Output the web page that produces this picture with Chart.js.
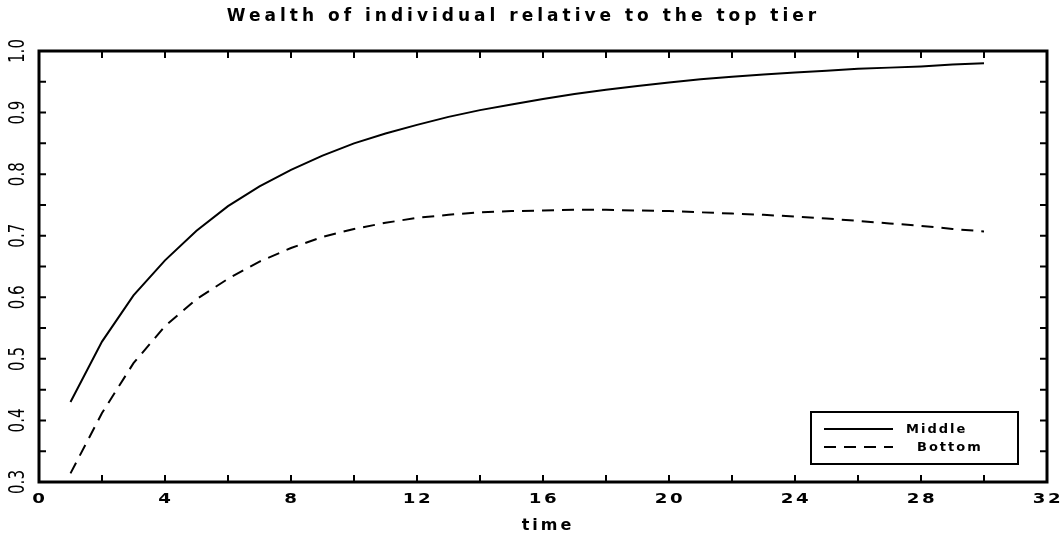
<!DOCTYPE html>
<html>
<head>
<meta charset="utf-8">
<script src="https://cdn.jsdelivr.net/npm/chart.js@4/dist/chart.umd.min.js"></script>
<style>
  body { margin: 0; background: #fff; }
  canvas { display: block; }
</style>
</head>
<body>
<canvas id="wealthChart" width="1063" height="539"></canvas>
<script>
// time steps and the two wealth ratios
const times = [1, 2, 3, 4, 5, 6, 7, 8, 9, 10, 11, 12, 13, 14, 15,
               16, 17, 18, 19, 20, 21, 22, 23, 24, 25, 26, 27, 28, 29, 30];
const middleWealth = [0.430, 0.528, 0.603, 0.660, 0.708, 0.748, 0.780, 0.807, 0.830, 0.850,
                      0.866, 0.880, 0.893, 0.904, 0.913, 0.922, 0.930, 0.937, 0.943, 0.949,
                      0.954, 0.958, 0.962, 0.965, 0.968, 0.971, 0.973, 0.975, 0.978, 0.980];
const bottomWealth = [0.314, 0.412, 0.493, 0.553, 0.597, 0.630, 0.658, 0.680, 0.698, 0.711,
                      0.721, 0.729, 0.734, 0.738, 0.740, 0.741, 0.742, 0.742, 0.741, 0.740,
                      0.738, 0.736, 0.734, 0.731, 0.728, 0.724, 0.720, 0.716, 0.711, 0.707];
const seriesNames = ['Middle', 'Bottom'];
const xAxisTitle = 'time';

const xLimits = [0, 32];
const xMajorStep = 4;
const xMinorStep = 2;
const yLimits = [0.3, 1.0];
const yMajorStep = 0.1;
const yMinorStep = 0.05;

const FONT = "'DejaVu Sans', sans-serif";
Chart.defaults.font.family = FONT;
Chart.defaults.color = '#000';

function toPoints(values){
    return values.map((v, i) => ({x: times[i], y: v}));
}

// frame, inward ticks, tick labels, axis title and the boxed legend
const framePlugin = {
    id: 'framePlugin',
    beforeDraw(chart){
        // only the chart title is drawn by the library, with wide spacing
        chart.ctx.letterSpacing = '4px';
    },
    afterDraw(chart){
        const ctx = chart.ctx;
        const area = chart.chartArea;
        const xs = chart.scales.x;
        const ys = chart.scales.y;
        ctx.save();
        ctx.strokeStyle = '#000';
        ctx.fillStyle = '#000';

        // ticks
        ctx.lineWidth = 2;
        const tickLen = 7;
        ctx.beginPath();
        for(let v = xs.min; v <= xs.max + 1e-9; v += xMinorStep){
            const px = xs.getPixelForValue(v);
            ctx.moveTo(px, area.bottom); ctx.lineTo(px, area.bottom - tickLen);
            ctx.moveTo(px, area.top); ctx.lineTo(px, area.top + tickLen);
        }
        for(let v = ys.min; v <= ys.max + 1e-9; v += yMinorStep){
            const py = ys.getPixelForValue(v);
            ctx.moveTo(area.left, py); ctx.lineTo(area.left + tickLen, py);
            ctx.moveTo(area.right, py); ctx.lineTo(area.right - tickLen, py);
        }
        ctx.stroke();

        // frame
        ctx.lineWidth = 3;
        ctx.strokeRect(area.left, area.top, area.right - area.left, area.bottom - area.top);

        // y tick labels, reading upward, tall and narrow
        ctx.letterSpacing = '0px';
        ctx.font = '21px ' + FONT;
        ctx.textAlign = 'center';
        ctx.textBaseline = 'middle';
        ys.ticks.forEach(t => {
            const py = ys.getPixelForValue(t.value);
            ctx.save();
            ctx.translate(area.left - 20, py);
            ctx.rotate(-Math.PI / 2);
            ctx.scale(0.72, 1);
            ctx.fillText(t.value.toFixed(1), 0, 0);
            ctx.restore();
        });

        // x tick labels, wide
        ctx.letterSpacing = '2px';
        ctx.font = 'bold 14px ' + FONT;
        ctx.textBaseline = 'alphabetic';
        xs.ticks.forEach(t => {
            const px = xs.getPixelForValue(t.value);
            ctx.save();
            ctx.translate(px + 1, area.bottom + 21);
            ctx.scale(1.3, 1);
            ctx.fillText(String(t.value), 0, 0);
            ctx.restore();
        });

        // x axis title
        ctx.letterSpacing = '3px';
        ctx.font = 'bold 16px ' + FONT;
        ctx.fillText(xAxisTitle, (area.left + area.right) / 2 + 5, area.bottom + 48);

        // legend box
        const boxW = 207, boxH = 52;
        const bx = area.right - 29 - boxW;
        const by = area.bottom - 18 - boxH;
        ctx.lineWidth = 2;
        ctx.strokeRect(bx, by, boxW, boxH);
        ctx.letterSpacing = '2px';
        ctx.font = 'bold 13px ' + FONT;
        ctx.textAlign = 'left';
        ctx.textBaseline = 'middle';
        const indents = [0, 11];
        chart.data.datasets.forEach((ds, i) => {
            const ly = by + 17 + i * 18;
            ctx.save();
            ctx.lineWidth = ds.borderWidth;
            ctx.setLineDash(ds.borderDash || []);
            ctx.beginPath();
            ctx.moveTo(bx + 13, ly);
            ctx.lineTo(bx + 82, ly);
            ctx.stroke();
            ctx.restore();
            ctx.fillText(ds.label, bx + 95 + indents[i], ly + 1);
        });
        ctx.restore();
    }
};

new Chart(document.getElementById('wealthChart'), {
    type: 'line',
    data: {
        datasets: [
            {
                label: seriesNames[0],
                data: toPoints(middleWealth),
                borderColor: '#000',
                borderWidth: 2,
                pointRadius: 0,
                fill: false,
                tension: 0
            },
            {
                label: seriesNames[1],
                data: toPoints(bottomWealth),
                borderColor: '#000',
                borderWidth: 2,
                borderDash: [12, 8],
                pointRadius: 0,
                fill: false,
                tension: 0
            }
        ]
    },
    options: {
        responsive: false,
        animation: false,
        layout: { padding: { left: 0, right: 16, top: 0, bottom: 0 } },
        plugins: {
            legend: { display: false },
            tooltip: { enabled: false },
            title: {
                display: true,
                text: 'Wealth of individual relative to the top tier',
                font: { size: 17, weight: 'bold' },
                color: '#000',
                padding: { top: 6, bottom: 24.6 }
            }
        },
        scales: {
            x: {
                type: 'linear',
                min: xLimits[0],
                max: xLimits[1],
                ticks: { stepSize: xMajorStep, display: false },
                grid: { display: false, drawTicks: false },
                border: { display: false },
                afterFit(scale){ scale.height = 57; }
            },
            y: {
                type: 'linear',
                min: yLimits[0],
                max: yLimits[1],
                ticks: { stepSize: yMajorStep, display: false },
                grid: { display: false, drawTicks: false },
                border: { display: false },
                afterFit(scale){ scale.width = 39; }
            }
        }
    },
    plugins: [framePlugin]
});
</script>
</body>
</html>
